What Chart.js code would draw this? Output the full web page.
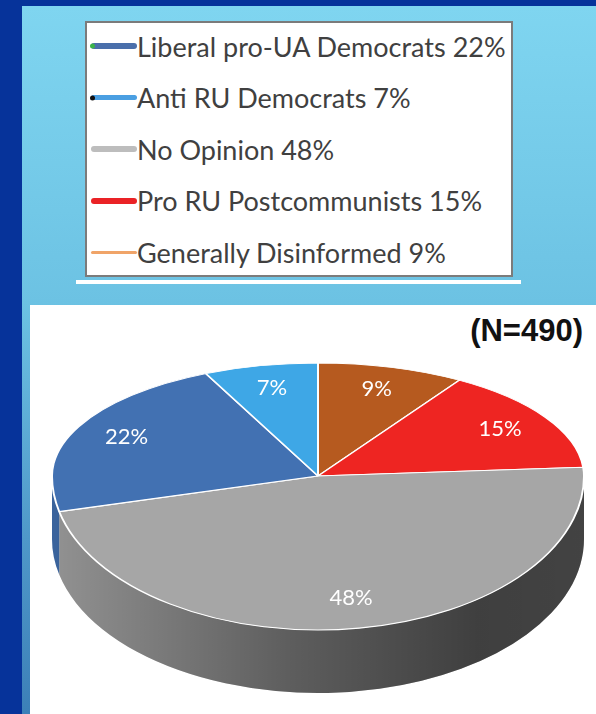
<!DOCTYPE html>
<html>
<head>
<meta charset="utf-8">
<script src="https://cdn.jsdelivr.net/npm/chart.js@4.4.1/dist/chart.umd.min.js"></script>
<style>
  html, body { margin: 0; padding: 0; }
  body {
    width: 596px; height: 714px; position: relative; overflow: hidden;
    background: #06339a;
    font-family: Lato, "Open Sans", sans-serif;
  }
  #panel {
    position: absolute; left: 22px; top: 6px; right: 0; bottom: 0;
    background: linear-gradient(#7fd5f0 0%, #6cc2e3 42%, #4f98c9 75%, #3c80b8 100%);
  }
  #legend {
    position: absolute; left: 85px; top: 21px; width: 424px; height: 252px;
    background: #fff; border: 2px solid #7b7b7b;
  }
  .row { position: absolute; left: 0; height: 30px; display: flex; align-items: center; }
  .mark { position: relative; width: 46px; margin-left: 4px; border-radius: 3px; }
  .tip { position: absolute; left: -1px; top: 50%; width: 5px; height: 5px; border-radius: 50%; transform: translateY(-50%); }
  .txt { font-size: 27px; color: #404040; white-space: nowrap; }
  #underline { position: absolute; left: 76px; top: 280px; width: 445px; height: 4px; background: #fff; }
  #card { position: absolute; left: 30px; top: 305px; right: 0; bottom: 0; background: #fff; }
  #n {
    position: absolute; right: 13px; top: 313px;
    font-family: "Liberation Sans", Arial, sans-serif; font-weight: bold; font-size: 31px; color: #111;
  }
  #c { position: absolute; left: 0; top: 0; }
</style>
</head>
<body>
<div id="panel"></div>
<div id="legend"></div>
<div id="underline"></div>
<div id="card"></div>
<div id="n">(N=490)</div>
<canvas id="c" width="596" height="714"></canvas>
<script>
// Survey groups and their shares (%)
const categories = ['Liberal pro-UA Democrats', 'Anti RU Democrats', 'No Opinion', 'Pro RU Postcommunists', 'Generally Disinformed'];
const shares = [22, 7, 48, 15, 9];
// Slices go clockwise from 12 o'clock in this order of category indices
const sliceOrder = [4, 3, 2, 0, 1];
const sampleSize = 490;

// Styling
const sliceColors = ['#4271b2', '#3ea7e6', '#a6a6a6', '#ee2522', '#b65a1f'];
const legendLineColors = ['#4a6fab', '#4a9fe2', '#bdbdbd', '#ea2226', '#f0a468'];
const legendTipColors = ['#3bb34a', '#111111', null, null, null];
const legendLineWidths = [6, 5, 6, 6, 3];

document.getElementById('n').textContent = '(N=' + sampleSize + ')';

// Legend box
const legendEl = document.getElementById('legend');
categories.forEach((name, i) => {
  const row = document.createElement('div');
  row.className = 'row';
  row.style.top = (8 + i * 51.5) + 'px';
  const mark = document.createElement('div');
  mark.className = 'mark';
  mark.style.height = legendLineWidths[i] + 'px';
  mark.style.background = legendLineColors[i];
  if (legendTipColors[i]) {
    const tip = document.createElement('div');
    tip.className = 'tip';
    tip.style.background = legendTipColors[i];
    mark.appendChild(tip);
  }
  const txt = document.createElement('span');
  txt.className = 'txt';
  txt.textContent = name + ' ' + shares[i] + '%';
  row.appendChild(mark);
  row.appendChild(txt);
  legendEl.appendChild(row);
});

// Tilted pie: the flat pie from Chart.js is squashed into a perspective-like
// top face (shallower far half, deeper near half) and given a side wall.
const pie3d = {
  id: 'pie3d',
  geom(chart) {
    const o = chart.options.plugins.pie3d;
    const arc0 = chart.getDatasetMeta(0).data[0];
    const p = arc0.getProps(['x', 'y', 'outerRadius'], true);
    return { o, ccx: p.x, ccy: p.y, R: p.outerRadius };
  },
  beforeDatasetsDraw(chart) {
    const ctx = chart.ctx;
    const meta = chart.getDatasetMeta(0);
    const { o, ccx, ccy, R } = this.geom(chart);

    // side wall of the near half
    const grad = ctx.createLinearGradient(o.cx - o.rx, 0, o.cx + o.rx, 0);
    grad.addColorStop(0, 'rgba(0,0,0,0.12)');
    grad.addColorStop(0.45, 'rgba(0,0,0,0.44)');
    grad.addColorStop(0.8, 'rgba(0,0,0,0.62)');
    grad.addColorStop(1, 'rgba(0,0,0,0.60)');
    meta.data.forEach(arc => {
      const { startAngle, endAngle } = arc.getProps(['startAngle', 'endAngle'], true);
      const a0 = Math.max(startAngle, 0), a1 = Math.min(endAngle, Math.PI);
      if (a1 <= a0) return;
      ctx.save();
      ctx.beginPath();
      ctx.ellipse(o.cx, o.cy, o.rx, o.ryNear, 0, a0, a1);
      ctx.ellipse(o.cx, o.cy + o.depth, o.rx, o.ryNear, 0, a1, a0, true);
      ctx.closePath();
      ctx.fillStyle = arc.options.backgroundColor;
      ctx.fill();
      ctx.fillStyle = grad;
      ctx.fill();
      ctx.restore();
    });

    // top face, far half and near half
    [[0, o.cy, o.ryFar], [o.cy, chart.height, o.ryNear]].forEach(([y0, y1, ry]) => {
      ctx.save();
      ctx.beginPath();
      ctx.rect(0, y0, chart.width, y1 - y0);
      ctx.clip();
      ctx.translate(o.cx, o.cy);
      ctx.scale(o.rx / R, ry / R);
      ctx.translate(-ccx, -ccy);
      meta.controller.draw();
      ctx.restore();
    });
    return false;
  },
  afterDraw(chart) {
    const ctx = chart.ctx;
    const meta = chart.getDatasetMeta(0);
    const { o } = this.geom(chart);
    const data = chart.data.datasets[0].data;
    ctx.save();
    ctx.fillStyle = '#ffffff';
    ctx.font = o.labelFont;
    ctx.textAlign = 'center';
    ctx.textBaseline = 'middle';
    meta.data.forEach((arc, i) => {
      const { startAngle, endAngle } = arc.getProps(['startAngle', 'endAngle'], true);
      const mid = (startAngle + endAngle) / 2;
      const s = Math.sin(mid);
      const ry = s < 0 ? o.ryFar : o.ryNear;
      const x = o.cx + o.labelPos * o.rx * Math.cos(mid);
      const y = o.cy + o.labelPos * ry * s;
      ctx.fillText(data[i] + '%', x, y);
    });
    ctx.restore();
  }
};

new Chart(document.getElementById('c'), {
  type: 'pie',
  data: {
    labels: sliceOrder.map(i => categories[i]),
    datasets: [{
      data: sliceOrder.map(i => shares[i]),
      backgroundColor: sliceOrder.map(i => sliceColors[i]),
      borderColor: '#ffffff',
      borderWidth: 2.2
    }]
  },
  options: {
    responsive: false,
    animation: false,
    devicePixelRatio: 1,
    events: [],
    plugins: {
      legend: { display: false },
      tooltip: { enabled: false },
      pie3d: {
        cx: 318, cy: 476, rx: 266, ryFar: 113, ryNear: 154, depth: 63,
        labelPos: 0.8, labelFont: '22px Lato, "Open Sans", sans-serif'
      }
    }
  },
  plugins: [pie3d]
});
</script>
</body>
</html>
